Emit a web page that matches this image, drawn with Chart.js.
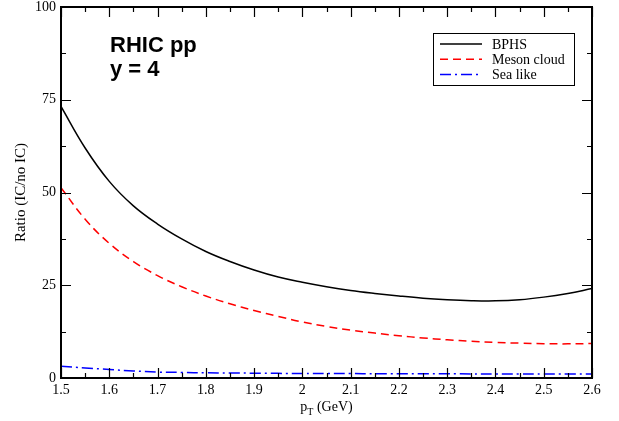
<!DOCTYPE html>
<html>
<head>
<meta charset="utf-8">
<script src="https://cdn.jsdelivr.net/npm/chart.js@4/dist/chart.umd.min.js"></script>
<style>
  html, body { margin: 0; padding: 0; background: #fff; }
  #wrap { width: 619px; height: 421px; }
</style>
</head>
<body>
<div id="wrap"><canvas id="ratioChart"></canvas></div>
<script>
// values
const pt = [1.5, 1.55, 1.6, 1.65, 1.7, 1.75, 1.8, 1.85, 1.9, 1.95, 2.0, 2.05, 2.1, 2.15, 2.2, 2.25, 2.3, 2.35, 2.4, 2.45, 2.5, 2.55, 2.6];
const bphs = [73.2, 62.0, 53.0, 46.4, 41.5, 37.5, 34.1, 31.4, 29.1, 27.2, 25.8, 24.6, 23.6, 22.8, 22.1, 21.5, 21.1, 20.85, 20.8, 21.1, 21.8, 22.8, 24.1];
const mesonCloud = [51.3, 42.8, 36.3, 31.4, 27.6, 24.6, 22.1, 20.0, 18.2, 16.6, 15.1, 13.9, 12.9, 12.1, 11.4, 10.8, 10.3, 9.9, 9.6, 9.4, 9.25, 9.2, 9.3];
const seaLike = [3.2, 2.7, 2.3, 1.9, 1.6, 1.5, 1.4, 1.35, 1.3, 1.25, 1.2, 1.2, 1.2, 1.15, 1.15, 1.15, 1.15, 1.1, 1.1, 1.1, 1.1, 1.1, 1.1];
const seriesNames = ['BPHS', 'Meson cloud', 'Sea like'];
const xTicks = [1.5, 1.6, 1.7, 1.8, 1.9, 2.0, 2.1, 2.2, 2.3, 2.4, 2.5, 2.6];
const yTicks = [0, 25, 50, 75, 100];

const serif = '"Liberation Serif", "DejaVu Serif", serif';
const sans = '"Liberation Sans", Arial, sans-serif';

function toPoints(ys) {
    return pt.map((x, i) => ({ x: x, y: ys[i] }));
}

// frame with inward ticks on all four sides, titles, label and legend
const framePlugin = {
    id: 'frame',
    afterDraw(chart) {
        const ctx = chart.ctx;
        const a = chart.chartArea;
        const xs = chart.scales.x;
        const ys = chart.scales.y;
        ctx.save();
        ctx.strokeStyle = '#000';
        ctx.lineWidth = 2;
        ctx.strokeRect(a.left, a.top, a.right - a.left, a.bottom - a.top);

        ctx.lineWidth = 1.2;
        ctx.beginPath();
        for (let v = 1.5; v <= 2.6001; v += 0.05) {
            const px = Math.round(xs.getPixelForValue(v)) + 0.5;
            const major = Math.abs(v * 10 - Math.round(v * 10)) < 0.01;
            const len = major ? 10 : 5;
            ctx.moveTo(px, a.bottom); ctx.lineTo(px, a.bottom - len);
            ctx.moveTo(px, a.top); ctx.lineTo(px, a.top + len);
        }
        for (let v = 0; v <= 100; v += 12.5) {
            const py = Math.round(ys.getPixelForValue(v)) + 0.5;
            const major = v % 25 === 0;
            const len = major ? 10 : 5;
            ctx.moveTo(a.left, py); ctx.lineTo(a.left + len, py);
            ctx.moveTo(a.right, py); ctx.lineTo(a.right - len, py);
        }
        ctx.stroke();

        // axis titles
        ctx.fillStyle = '#000';
        ctx.font = '15px ' + serif;
        ctx.save();
        ctx.translate(21, (a.top + a.bottom) / 2);
        ctx.rotate(-Math.PI / 2);
        ctx.textAlign = 'center';
        ctx.textBaseline = 'middle';
        ctx.fillText('Ratio (IC/no IC)', 0, 0);
        ctx.restore();

        const cx = (a.left + a.right) / 2;
        ctx.textBaseline = 'alphabetic';
        ctx.textAlign = 'left';
        ctx.font = '14px ' + serif;
        const pw = ctx.measureText('p').width;
        ctx.font = '10px ' + serif;
        const tw = ctx.measureText('T').width;
        ctx.font = '14px ' + serif;
        const rest = ' (GeV)';
        const rw = ctx.measureText(rest).width;
        let x0 = cx - (pw + tw + rw) / 2;
        ctx.fillText('p', x0, 411);
        ctx.font = '10px ' + serif;
        ctx.fillText('T', x0 + pw, 415);
        ctx.font = '14px ' + serif;
        ctx.fillText(rest, x0 + pw + tw, 411);

        // label in the plot
        ctx.font = 'bold 22px ' + sans;
        ctx.fillText('RHIC pp', 110, 52);
        ctx.fillText('y = 4', 110, 76);

        // legend box
        const lx = 433, ly = 33, lw = 141, lh = 52;
        ctx.lineWidth = 1;
        ctx.strokeStyle = '#000';
        ctx.strokeRect(lx + 0.5, ly + 0.5, lw, lh);
        ctx.font = '14px ' + serif;
        ctx.textBaseline = 'middle';
        chart.data.datasets.forEach((ds, i) => {
            const yy = 44 + i * 15.2;
            ctx.strokeStyle = ds.borderColor;
            ctx.lineWidth = 1.5;
            ctx.setLineDash(ds.borderDash || []);
            ctx.beginPath();
            ctx.moveTo(440, yy);
            ctx.lineTo(482, yy);
            ctx.stroke();
            ctx.setLineDash([]);
            ctx.fillStyle = '#000';
            ctx.fillText(ds.label, 492, yy + 1);
        });
        ctx.restore();
    }
};

const ctx = document.getElementById('ratioChart').getContext('2d');
new Chart(ctx, {
    type: 'line',
    data: {
        datasets: [
            { label: seriesNames[0], data: toPoints(bphs), borderColor: '#000000', borderWidth: 1.5 },
            { label: seriesNames[1], data: toPoints(mesonCloud), borderColor: '#ff0000', borderWidth: 1.5, borderDash: [8, 5] },
            { label: seriesNames[2], data: toPoints(seaLike), borderColor: '#0000ff', borderWidth: 1.5, borderDash: [11, 4, 2, 4] }
        ]
    },
    options: {
        responsive: true,
        maintainAspectRatio: false,
        animation: false,
        layout: { padding: { top: 7, right: 27, left: 0, bottom: 0 } },
        elements: {
            point: { radius: 0 },
            line: { tension: 0.4, fill: false }
        },
        plugins: {
            legend: { display: false },
            tooltip: { enabled: false }
        },
        scales: {
            x: {
                type: 'linear',
                min: 1.5,
                max: 2.6,
                afterBuildTicks: s => { s.ticks = xTicks.map(v => ({ value: v })); },
                afterFit: s => { s.height = 43; s.paddingLeft = 0; s.paddingRight = 0; },
                grid: { display: false, drawTicks: false },
                border: { display: false },
                ticks: {
                    color: '#000',
                    padding: 4,
                    maxRotation: 0,
                    font: { family: serif, size: 14 },
                    callback: v => String(Math.round(v * 10) / 10)
                }
            },
            y: {
                min: 0,
                max: 100,
                afterBuildTicks: s => { s.ticks = yTicks.map(v => ({ value: v })); },
                afterFit: s => { s.width = 61; s.paddingTop = 0; s.paddingBottom = 0; },
                grid: { display: false, drawTicks: false },
                border: { display: false },
                ticks: {
                    color: '#000',
                    padding: 5,
                    font: { family: serif, size: 14 }
                }
            }
        }
    },
    plugins: [framePlugin]
});
</script>
</body>
</html>
